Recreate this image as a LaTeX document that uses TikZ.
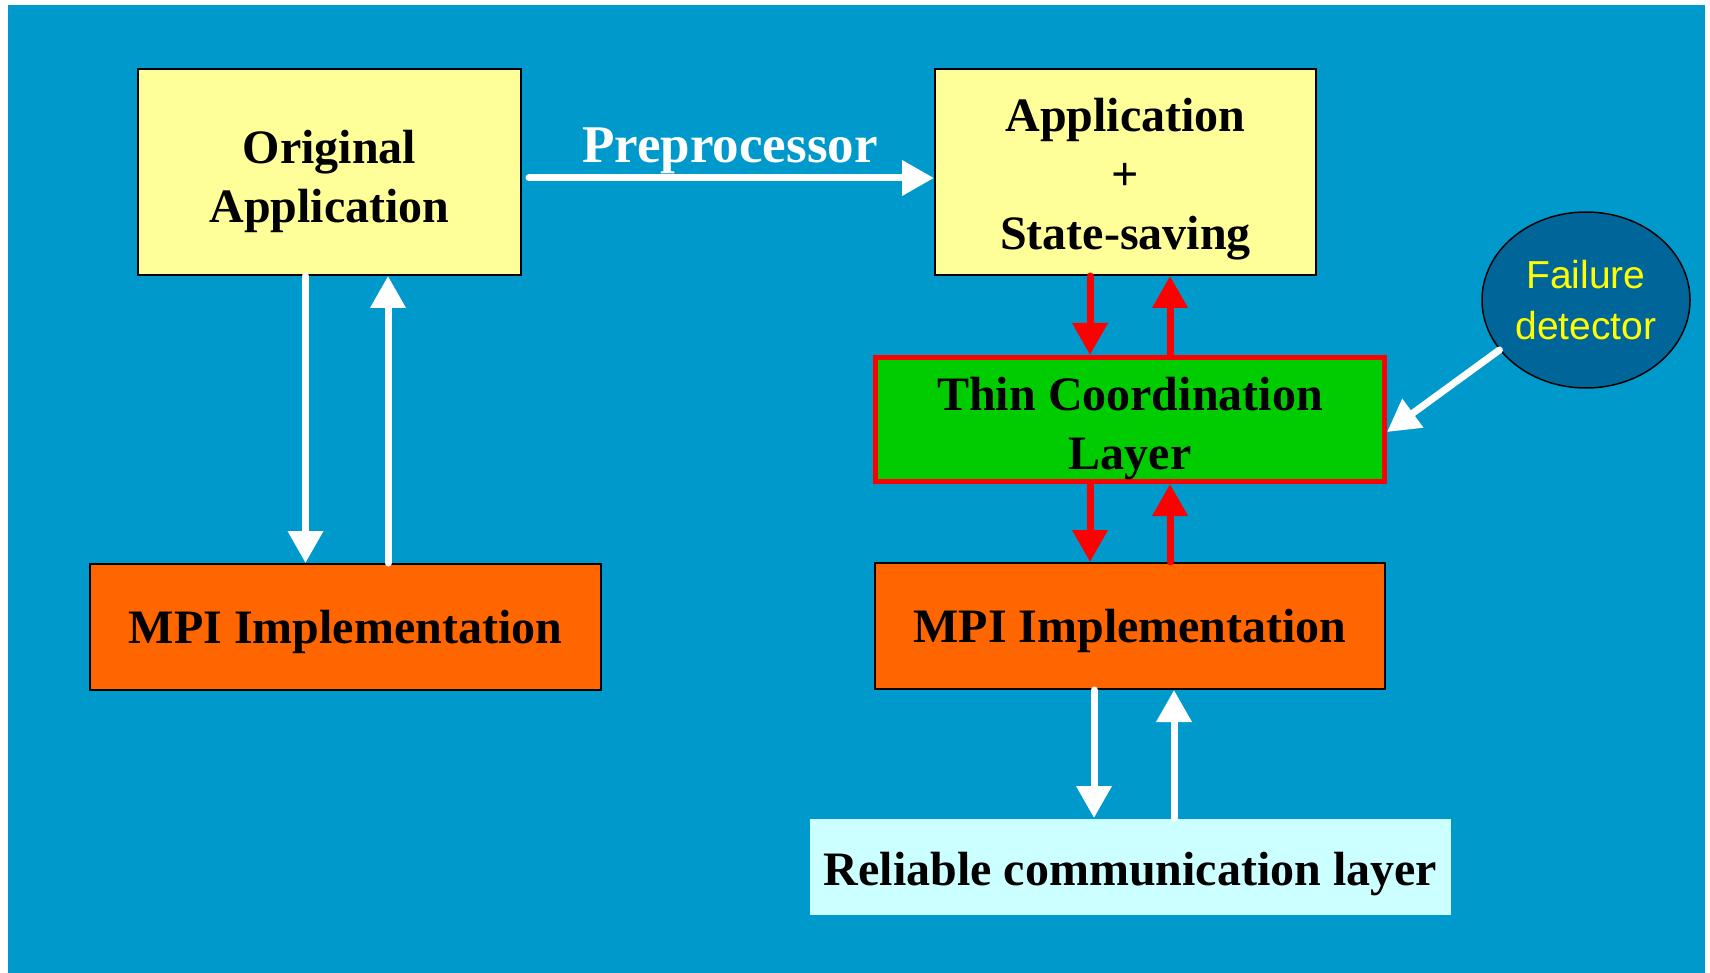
\documentclass[tikz,border=0pt]{standalone}
\usepackage{fontspec}
\setmainfont{Liberation Serif}
\newfontfamily\fdfont{Liberation Sans}
\usetikzlibrary{arrows.meta,shapes.geometric}
\definecolor{bgblue}{HTML}{0099CC}
\definecolor{boxyellow}{HTML}{FFFF99}
\definecolor{boxorange}{HTML}{FF6600}
\definecolor{boxgreen}{HTML}{00CC00}
\definecolor{boxcyan}{HTML}{CCFFFF}
\definecolor{fdblue}{HTML}{006699}
\definecolor{fdtext}{HTML}{FFFF00}
\begin{document}
\begin{tikzpicture}[x=1pt,y=-1pt,
  box/.style={draw=black, line width=2pt, rectangle, inner sep=0pt},
  lbl/.style={inner sep=0pt, align=center, text=black,
    font=\bfseries\fontsize{48}{59}\selectfont},
  warrow/.style={draw=white, line width=7pt, line cap=round,
    -{Triangle[width=34pt,length=32pt]}},
  rarrow/.style={warrow, draw=red},
  fdstyle/.style={ellipse, draw=black, line width=1.5pt, fill=fdblue, inner sep=0pt,
    minimum width=208pt, minimum height=176pt, align=center, text=fdtext,
    font=\fdfont\fontsize{39}{51}\selectfont}
]
\useasboundingbox (0,0) rectangle (1710,973);
\fill[white] (0,0) rectangle (1710,973);
\fill[bgblue] (8,5) rectangle (1705,973);

% left column
\node[box, fill=boxyellow, minimum width=383pt, minimum height=206pt] (orig) at (329.5,172) {};
\node[lbl] (origT) at ([yshift=-9pt]orig.center) {Original\\Application};
\node[box, fill=boxorange, minimum width=511pt, minimum height=126pt] (mpil) at (345.5,627) {};
\node[lbl] (mpilT) at ([yshift=-4.5pt]mpil.center) {MPI Implementation};

% right column
\node[box, fill=boxyellow, minimum width=381pt, minimum height=206pt] (apps) at (1125.5,172) {};
\node[lbl] (appsT) at ([yshift=-7pt]apps.center) {Application\\+\\State-saving};
\node[box, draw=red, line width=5pt, fill=boxgreen, minimum width=509pt, minimum height=124pt] (tcl) at (1130,419.5) {};
\node[lbl] (tclT) at ([yshift=-9pt]tcl.center) {Thin Coordination\\Layer};
\node[box, fill=boxorange, minimum width=510pt, minimum height=126pt] (mpir) at (1130,626) {};
\node[lbl] (mpirT) at ([yshift=-4.5pt]mpir.center) {MPI Implementation};
\node[box, draw=none, fill=boxcyan, minimum width=641pt, minimum height=96pt] (rcl) at (1130.5,867) {};
\node[lbl] (rclT) at ([yshift=-7pt]rcl.center) {Reliable communication layer};

% failure detector
\node[fdstyle] (fd) at (1586,300) {Failure\\detector};

% coordinates for arrow columns
\coordinate (l1) at (305.5,0);
\coordinate (l2) at (388,0);
\coordinate (r1) at (1090,0);
\coordinate (r2) at (1170,0);
\coordinate (b1) at (1094,0);
\coordinate (b2) at (1174,0);
\coordinate (py) at (0,178);
\coordinate (fdtip) at ([yshift=-12.5pt]tcl.east);

% preprocessor
\draw[warrow] ([xshift=7pt]orig.east |- py) -- (apps.west |- py);
\node[text=white, font=\bfseries\fontsize{53}{60}\selectfont, anchor=base, inner sep=0pt] (pre) at (730,163) {Preprocessor};

% left arrows
\draw[warrow] (orig.south -| l1) -- (mpil.north -| l1);
\draw[warrow] (mpil.north -| l2) -- (orig.south -| l2);

% red arrows
\draw[rarrow] (apps.south -| r1) -- (tcl.north -| r1);
\draw[rarrow] (tcl.north -| r2) -- (apps.south -| r2);
\draw[rarrow] (tcl.south -| r1) -- (mpir.north -| r1);
\draw[rarrow] (mpir.north -| r2) -- (tcl.south -| r2);

% bottom white arrows
\draw[warrow] (mpir.south -| b1) -- (rcl.north -| b1);
\draw[warrow] (rcl.north -| b2) -- (mpir.south -| b2);

% failure detector arrow
\draw[warrow] (fd.210) -- (fdtip);
\end{tikzpicture}
\end{document}
